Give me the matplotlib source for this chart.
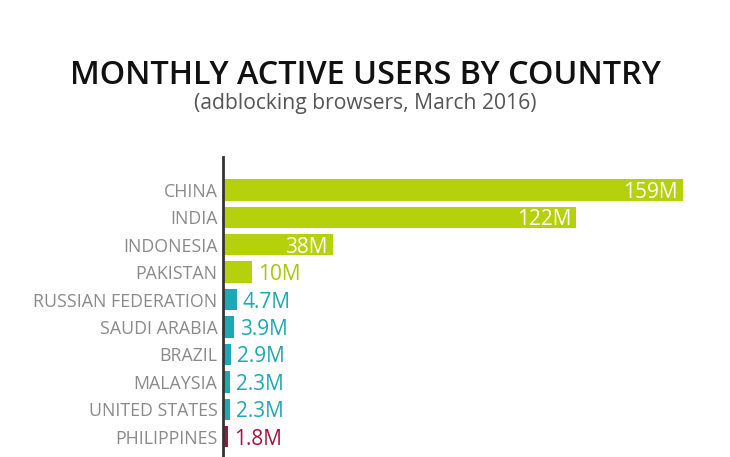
import matplotlib
matplotlib.use("Agg")
import matplotlib.pyplot as plt

countries = ["CHINA", "INDIA", "INDONESIA", "PAKISTAN", "RUSSIAN FEDERATION",
             "SAUDI ARABIA", "BRAZIL", "MALAYSIA", "UNITED STATES", "PHILIPPINES"]
values = [159, 122, 38, 10, 4.7, 3.9, 2.9, 2.3, 2.3, 1.8]
labels = ["159M", "122M", "38M", "10M", "4.7M", "3.9M", "2.9M", "2.3M", "2.3M", "1.8M"]
groups = ["g", "g", "g", "g", "t", "t", "t", "t", "t", "r"]
inside = [True, True, True, False, False, False, False, False, False, False]

colors = {"g": "#b4d10b", "t": "#1fa8b4", "r": "#a1143f"}
text_colors = {"g": "#a9c60a", "t": "#1fa8b4", "r": "#a1143f"}

W, H = 730, 457
fig = plt.figure(figsize=(W / 100, H / 100), dpi=100)
fig.patch.set_facecolor("white")

ax_left, ax_top = 223, 157
ax = fig.add_axes([ax_left / W, 0, (W - ax_left) / W, (H - ax_top) / H])
ax.set_facecolor("white")

ypos = list(range(len(countries)))
ax.barh(ypos, values, height=0.78, color=[colors[g] for g in groups], zorder=2)

ax.set_ylim(9.74, -1.2)
px_per_unit = 2.893
ax.set_xlim(0, (W - ax_left) / px_per_unit)

for s in ["top", "right", "bottom"]:
    ax.spines[s].set_visible(False)
ax.spines["left"].set_color("#333333")
ax.spines["left"].set_linewidth(2)
ax.spines["left"].set_zorder(3)
ax.set_xticks([])
ax.set_yticks(ypos)
ax.set_yticklabels(countries, fontfamily="Open Sans", fontsize=12.8, color="#8a8a8a",
                   va="center_baseline")
ax.tick_params(axis="y", length=0, pad=4)

off = 5 / px_per_unit
for y, v, lab, g, ins in zip(ypos, values, labels, groups, inside):
    if ins:
        ax.text(v - off, y, lab, ha="right", va="center_baseline", color="white",
                fontsize=15, fontfamily="Open Sans", zorder=4)
    else:
        ax.text(v + off * 1.2, y, lab, ha="left", va="center_baseline", color=text_colors[g],
                fontsize=15, fontfamily="Open Sans", zorder=4)

fig.text(0.5, 1 - 71 / H, "MONTHLY ACTIVE USERS BY COUNTRY", ha="center", va="center_baseline",
         fontsize=23.3, fontfamily="Open Sans", fontweight="semibold", color="#111111")
fig.text(0.5, 1 - 104 / H, "(adblocking browsers, March 2016)", ha="center", va="center",
         fontsize=15.2, fontfamily="Open Sans", color="#555555")

fig.savefig("out.png", dpi=100, facecolor="white")
